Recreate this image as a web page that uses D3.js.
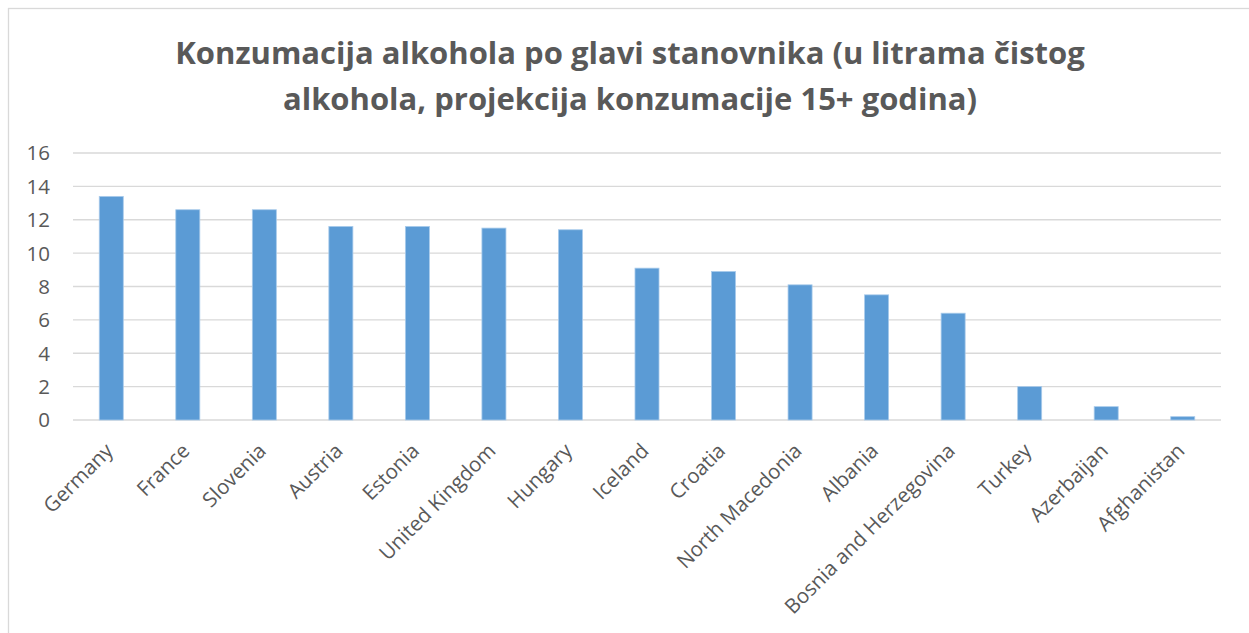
<!DOCTYPE html>
<html>
<head>
<meta charset="utf-8">
<script src="https://cdn.jsdelivr.net/npm/d3@7"></script>
<style>
  body { margin: 0; background: #fff; }
  #chart { width: 1249px; height: 633px; }
  text { font-family: "Open Sans", sans-serif; fill: #595959; }
</style>
</head>
<body>
<div id="chart"></div>
<script>
// data
var countries = ["Germany", "France", "Slovenia", "Austria", "Estonia", "United Kingdom", "Hungary",
    "Iceland", "Croatia", "North Macedonia", "Albania", "Bosnia and Herzegovina", "Turkey",
    "Azerbaijan", "Afghanistan"];
var litres = [13.4, 12.6, 12.6, 11.6, 11.6, 11.5, 11.4, 9.1, 8.9, 8.1, 7.5, 6.4, 2.0, 0.8, 0.2];
var yTicks = [0, 2, 4, 6, 8, 10, 12, 14, 16];
var titleLines = ["Konzumacija alkohola po glavi stanovnika (u litrama čistog",
    "alkohola, projekcija konzumacije 15+ godina)"];

var width = 1249, height = 633;
var margin = {top: 153, right: 28, bottom: 213, left: 73};

var svg = d3.select("#chart")
    .append("svg")
        .attr("width", width)
        .attr("height", height);

// chart frame
svg.append("rect")
    .attr("x", 8.5).attr("y", 8.5)
    .attr("width", width + 20).attr("height", height + 20)
    .attr("fill", "none")
    .attr("stroke", "#d9d9d9")
    .attr("stroke-width", 1.3);

// title
svg.append("text")
    .attr("x", 630)
    .attr("text-anchor", "middle")
    .attr("font-size", 31)
    .attr("font-weight", "bold")
    .selectAll("tspan")
    .data(titleLines)
    .join("tspan")
        .attr("x", 630)
        .attr("y", (d, i) => 64 + i * 46)
        .text(d => d);

var x = d3.scaleBand()
    .domain(countries)
    .range([margin.left, width - margin.right])
    .paddingInner(0.686)
    .paddingOuter(0.343);

var y = d3.scaleLinear()
    .domain([0, 16])
    .range([height - margin.bottom, margin.top]);

// gridlines
svg.append("g")
    .selectAll("line")
    .data(yTicks)
    .join("line")
        .attr("x1", margin.left)
        .attr("x2", width - margin.right)
        .attr("y1", d => y(d))
        .attr("y2", d => y(d))
        .attr("stroke", "#d9d9d9")
        .attr("stroke-width", 1.3);

// y labels
svg.append("g")
    .selectAll("text")
    .data(yTicks)
    .join("text")
        .attr("x", 50)
        .attr("y", d => y(d))
        .attr("dy", "0.36em")
        .attr("text-anchor", "end")
        .attr("font-size", 20.5)
        .text(d => d);

// bars
svg.append("g")
    .selectAll("rect")
    .data(litres)
    .join("rect")
        .attr("x", (d, i) => x(countries[i]))
        .attr("y", d => y(d))
        .attr("width", x.bandwidth())
        .attr("height", d => y(0) - y(d))
        .attr("fill", "#5b9bd5")
        .attr("stroke", "#a9cbeb")
        .attr("stroke-width", 0.8);

// x labels
svg.append("g")
    .selectAll("text")
    .data(countries)
    .join("text")
        .attr("transform", d => "translate(" + (x(d) + x.bandwidth() / 2 - 2) + "," + (y(0) + 27) + ") rotate(-45)")
        .attr("dy", "0.35em")
        .attr("text-anchor", "end")
        .attr("font-size", 20.5)
        .text(d => d);
</script>
</body>
</html>
